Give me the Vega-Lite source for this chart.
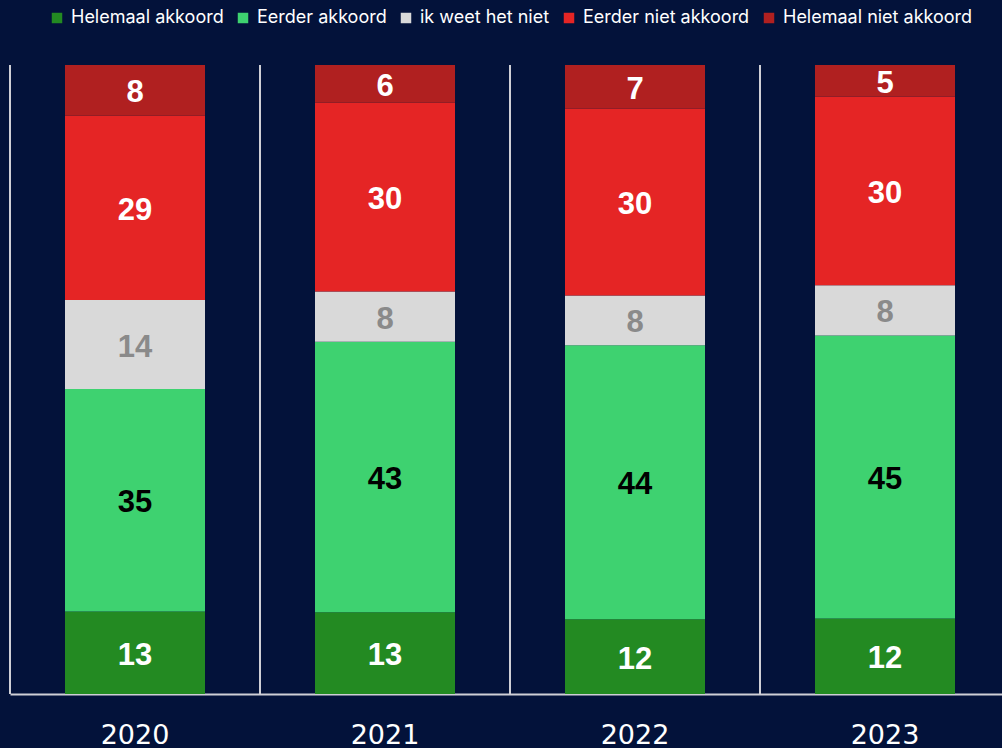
{
  "$schema": "https://vega.github.io/schema/vega-lite/v6.json",
  "width": 1000,
  "height": 629,
  "autosize": {"type": "none"},
  "padding": {"left": 10, "top": 65, "right": 0, "bottom": 54},
  "background": "#03123A",
  "config": {"view": {"stroke": null}},
  "data": {
    "values": [
      {"year": "2020", "cat": "Helemaal akkoord", "o": 1, "v": 13},
      {"year": "2020", "cat": "Eerder akkoord", "o": 2, "v": 35},
      {"year": "2020", "cat": "ik weet het niet", "o": 3, "v": 14},
      {"year": "2020", "cat": "Eerder niet akkoord", "o": 4, "v": 29},
      {"year": "2020", "cat": "Helemaal niet akkoord", "o": 5, "v": 8},
      {"year": "2021", "cat": "Helemaal akkoord", "o": 1, "v": 13},
      {"year": "2021", "cat": "Eerder akkoord", "o": 2, "v": 43},
      {"year": "2021", "cat": "ik weet het niet", "o": 3, "v": 8},
      {"year": "2021", "cat": "Eerder niet akkoord", "o": 4, "v": 30},
      {"year": "2021", "cat": "Helemaal niet akkoord", "o": 5, "v": 6},
      {"year": "2022", "cat": "Helemaal akkoord", "o": 1, "v": 12},
      {"year": "2022", "cat": "Eerder akkoord", "o": 2, "v": 44},
      {"year": "2022", "cat": "ik weet het niet", "o": 3, "v": 8},
      {"year": "2022", "cat": "Eerder niet akkoord", "o": 4, "v": 30},
      {"year": "2022", "cat": "Helemaal niet akkoord", "o": 5, "v": 7},
      {"year": "2023", "cat": "Helemaal akkoord", "o": 1, "v": 12},
      {"year": "2023", "cat": "Eerder akkoord", "o": 2, "v": 45},
      {"year": "2023", "cat": "ik weet het niet", "o": 3, "v": 8},
      {"year": "2023", "cat": "Eerder niet akkoord", "o": 4, "v": 30},
      {"year": "2023", "cat": "Helemaal niet akkoord", "o": 5, "v": 5}
    ]
  },
  "encoding": {
    "x": {
      "field": "year", "type": "nominal",
      "scale": {"paddingInner": 0.44, "paddingOuter": 0.22},
      "axis": {
        "title": null, "labelAngle": 0, "ticks": false, "grid": false,
        "domainColor": "#cfcfd6", "domainWidth": 2,
        "labelColor": "#ffffff", "labelFont": "DejaVu Sans", "labelFontSize": 27,
        "labelPadding": 28
      }
    }
  },
  "layer": [
    {
      "data": {"values": [{"year": "2020"}, {"year": "2021"}, {"year": "2022"}, {"year": "2023"}]},
      "mark": {"type": "rule", "color": "#cfcfd6", "strokeWidth": 2, "xOffset": -125},
      "encoding": {}
    },
    {
      "transform": [
        {"stack": "v", "groupby": ["year"], "sort": [{"field": "o", "order": "ascending"}], "offset": "normalize", "as": ["y0", "y1"]}
      ],
      "mark": {"type": "bar"},
      "encoding": {
        "y": {"field": "y0", "type": "quantitative", "scale": {"domain": [0, 1]}, "axis": null},
        "y2": {"field": "y1"},
        "color": {
          "field": "cat", "type": "nominal",
          "scale": {
            "domain": ["Helemaal akkoord", "Eerder akkoord", "ik weet het niet", "Eerder niet akkoord", "Helemaal niet akkoord"],
            "range": ["#238A22", "#3ED270", "#D9D9D9", "#E52525", "#B02020"]
          },
          "legend": {
            "title": null, "orient": "none", "direction": "horizontal",
            "legendX": 38, "legendY": -56,
            "symbolType": "square", "symbolSize": 110, "symbolStrokeWidth": 0, "symbolOpacity": 1,
            "labelColor": "#ffffff", "labelFont": "Inter", "labelFontSize": 18, "labelLimit": 400,
            "labelOffset": 5, "columnPadding": 10
          }
        }
      }
    },
    {
      "transform": [
        {"stack": "v", "groupby": ["year"], "sort": [{"field": "o", "order": "ascending"}], "offset": "normalize", "as": ["y0", "y1"]},
        {"calculate": "(datum.y0 + datum.y1) / 2", "as": "ym"}
      ],
      "mark": {"type": "text", "font": "Liberation Sans", "fontWeight": "bold", "fontSize": 31, "baseline": "middle", "dy": 3},
      "encoding": {
        "y": {"field": "ym", "type": "quantitative", "scale": {"domain": [0, 1]}},
        "text": {"field": "v", "type": "quantitative"},
        "color": {
          "field": "cat", "type": "nominal",
          "scale": {
            "domain": ["Helemaal akkoord", "Eerder akkoord", "ik weet het niet", "Eerder niet akkoord", "Helemaal niet akkoord"],
            "range": ["#ffffff", "#000000", "#8a8a8a", "#ffffff", "#ffffff"]
          },
          "legend": null
        }
      }
    }
  ],
  "resolve": {"scale": {"color": "independent"}}
}
